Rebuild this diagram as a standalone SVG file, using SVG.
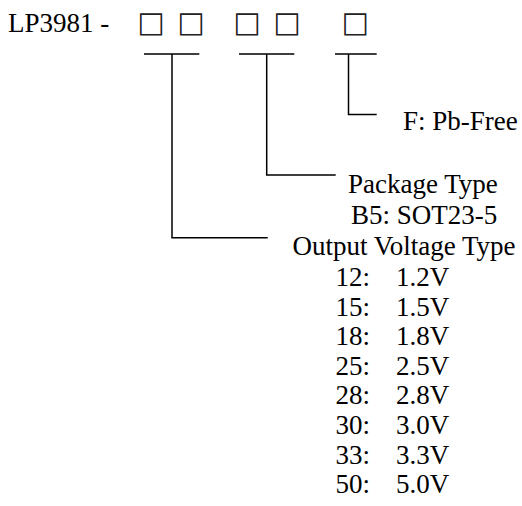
<svg xmlns="http://www.w3.org/2000/svg" width="522" height="506" viewBox="0 0 522 506">
<style>
text{font-family:"Liberation Serif","Times New Roman",serif;font-size:27px;fill:#000}
.box{text-anchor:middle;font-family:"DejaVu Sans",sans-serif;font-size:29px;fill:#222}
.ln{fill:none;stroke:#000;stroke-width:1.5}
</style>
<rect width="522" height="506" fill="#fff"/>
<g id="part-number">
<text x="8" y="31.7">LP3981 -</text>
<text class="box" x="151.2" y="31.5">□</text>
<text class="box" x="191.2" y="31.5">□</text>
<text class="box" x="247.2" y="31.5">□</text>
<text class="box" x="287.2" y="31.5">□</text>
<text class="box" x="355.5" y="31.5">□</text>
</g>
<g id="connectors">
<path class="ln" d="M144 54H199.3M172 54V237.7H267.7"/>
<path class="ln" d="M239 54H294.3M266.7 54V175H335.7"/>
<path class="ln" d="M335 54H376.7M348.5 54V114.5H376.7"/>
</g>
<g id="pb-free">
<text x="403" y="129.5">F: Pb-Free</text>
</g>
<g id="package-type">
<text x="348" y="193">Package Type</text>
<text x="351" y="224">B5: SOT23-5</text>
</g>
<g id="output-voltage">
<text x="292.5" y="255">Output Voltage Type</text>
<text x="335.5" y="286">12:</text><text x="396" y="286">1.2V</text>
<text x="335.5" y="315.6">15:</text><text x="396" y="315.6">1.5V</text>
<text x="335.5" y="345.2">18:</text><text x="396" y="345.2">1.8V</text>
<text x="335.5" y="374.8">25:</text><text x="396" y="374.8">2.5V</text>
<text x="335.5" y="404.4">28:</text><text x="396" y="404.4">2.8V</text>
<text x="335.5" y="434">30:</text><text x="396" y="434">3.0V</text>
<text x="335.5" y="463.6">33:</text><text x="396" y="463.6">3.3V</text>
<text x="335.5" y="493.2">50:</text><text x="396" y="493.2">5.0V</text>
</g>
</svg>
